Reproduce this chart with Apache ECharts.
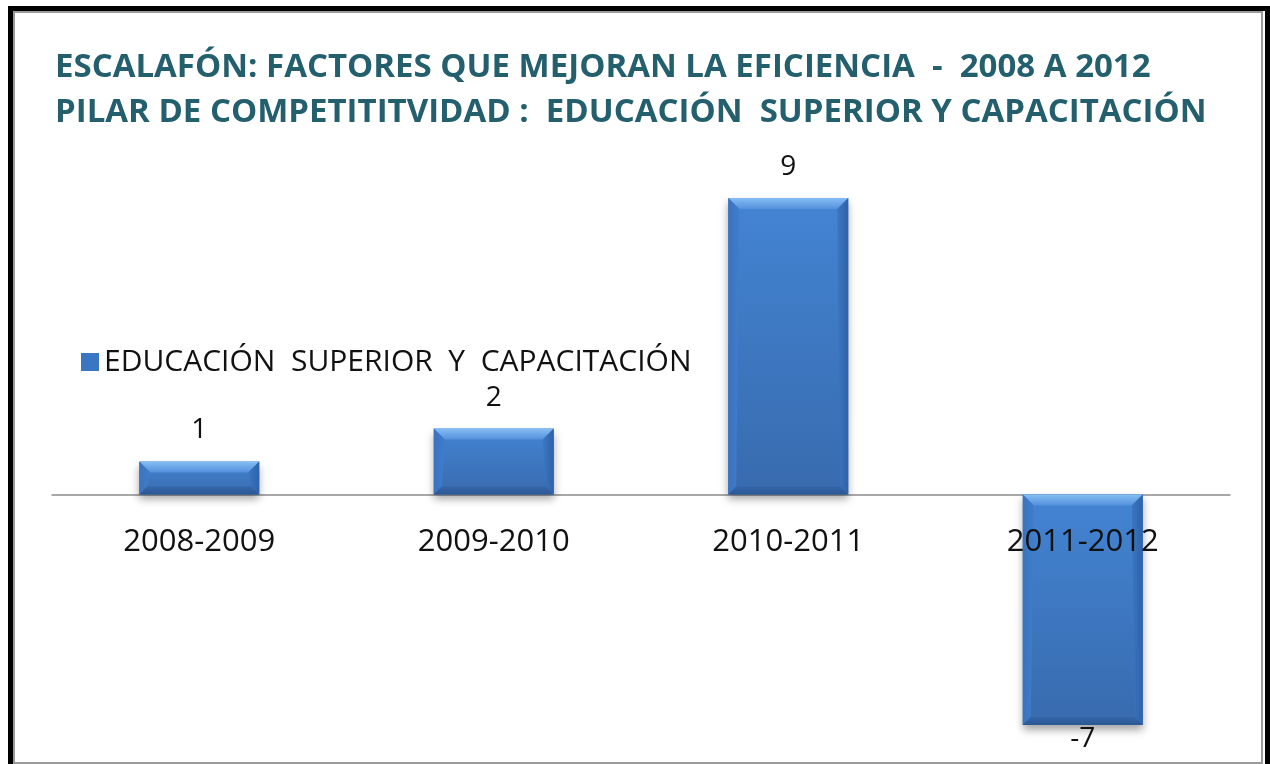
<!DOCTYPE html>
<html>
<head>
<meta charset="utf-8">
<script src="https://cdn.jsdelivr.net/npm/echarts@6/dist/echarts.min.js"></script>
<style>
  html, body { margin: 0; padding: 0; background: #fff; }
  #frame { position: absolute; left: 8px; top: 6px; width: 1252px; height: 800px; border: 5px solid #000; }
  #inner { position: absolute; left: 13px; top: 11px; width: 1246px; height: 749px; border: 2px solid #9a9a9a; }
  #chart { position: absolute; left: 0; top: 0; width: 1270px; height: 764px; }
</style>
</head>
<body>
<div id="frame"></div>
<div id="inner"></div>
<div id="chart"></div>
<script>
var titleLines = [
    'ESCALAFÓN: FACTORES QUE MEJORAN LA EFICIENCIA  -  2008 A 2012',
    'PILAR DE COMPETITITVIDAD :  EDUCACIÓN  SUPERIOR Y CAPACITACIÓN'
];
var seriesName = 'EDUCACIÓN  SUPERIOR  Y  CAPACITACIÓN';
var categories = ['2008-2009', '2009-2010', '2010-2011', '2011-2012'];
var values = [1, 2, 9, -7];

var BAR_W = 120, BEVEL = 11;

var chart = echarts.init(document.getElementById('chart'), null, { renderer: 'canvas' });

var barData = values.map(function (v) {
    return {
        value: v,
        label: { position: v < 0 ? 'bottom' : 'top', distance: v < 0 ? 0 : 17 }
    };
});
var bevelData = values.map(function (v, i) { return [i, v]; });
// category names sit on the zero line, not at the bottom of the grid
var catLabelData = categories.map(function (c) { return [c, 0]; });

function poly(points, fill) {
    return { type: 'polygon', shape: { points: points }, style: { fill: fill }, silent: true };
}

function renderBevel(params, api) {
    var i = api.value(0), v = api.value(1);
    var a = api.coord([i, 0]), b = api.coord([i, v]);
    var x0 = a[0] - BAR_W / 2, x1 = a[0] + BAR_W / 2;
    var yT = Math.min(a[1], b[1]), yB = Math.max(a[1], b[1]);
    var d = Math.min(BEVEL, (yB - yT) / 2);
    var db = Math.min(8, (yB - yT) / 2);
    return {
        type: 'group',
        children: [
            poly([[x0, yT], [x1, yT], [x1 - d, yT + d], [x0 + d, yT + d]],
                new echarts.graphic.LinearGradient(0, 0, 0, 1, [
                    { offset: 0, color: '#86bdf3' }, { offset: 1, color: '#5391dc' }])),
            poly([[x0, yT], [x0 + d, yT + d], [x0 + db, yB - db], [x0, yB]],
                new echarts.graphic.LinearGradient(0, 0, 1, 0, [
                    { offset: 0, color: '#3a73bf' }, { offset: 1, color: '#3f7dcb' }])),
            poly([[x1, yT], [x1, yB], [x1 - db, yB - db], [x1 - d, yT + d]],
                new echarts.graphic.LinearGradient(0, 0, 1, 0, [
                    { offset: 0, color: '#3b76c2' }, { offset: 1, color: '#2f62a8' }])),
            poly([[x0, yB], [x0 + db, yB - db], [x1 - db, yB - db], [x1, yB]],
                new echarts.graphic.LinearGradient(0, 0, 0, 1, [
                    { offset: 0, color: '#3566a8' }, { offset: 1, color: '#2c5894' }]))
        ]
    };
}

var option = {
    backgroundColor: 'transparent',
    animation: false,
    title: {
        text: titleLines.join('\n'),
        left: 50,
        top: 40,
        textStyle: {
            fontFamily: 'Open Sans',
            fontWeight: 'bold',
            fontSize: 33,
            lineHeight: 45,
            color: '#235f6d'
        }
    },
    legend: {
        data: [seriesName],
        left: 76,
        top: 342,
        icon: 'rect',
        itemWidth: 18,
        itemHeight: 18,
        itemGap: 8,
        itemStyle: { color: '#3b76c2' },
        textStyle: { fontFamily: 'Open Sans', fontSize: 30, color: '#111' }
    },
    grid: { left: 52, right: 40, top: 198, bottom: 39, containLabel: false, outerBoundsMode: 'none' },
    xAxis: {
        type: 'category',
        data: categories,
        axisLine: { onZero: true, lineStyle: { color: '#8c8c8c', width: 1.5 } },
        axisTick: { show: false },
        axisLabel: { show: false }
    },
    yAxis: {
        type: 'value',
        min: -7,
        max: 9,
        show: false,
        splitLine: { show: false }
    },
    series: [
        {
            name: seriesName,
            type: 'bar',
            barWidth: BAR_W,
            data: barData,
            itemStyle: {
                color: new echarts.graphic.LinearGradient(0, 0, 0, 1, [
                    { offset: 0, color: '#4384d3' }, { offset: 1, color: '#386bae' }]),
                shadowColor: 'rgba(0,0,0,0.35)',
                shadowBlur: 8,
                shadowOffsetY: 5
            },
            label: {
                show: true,
                fontFamily: 'Open Sans',
                fontSize: 28,
                color: '#111'
            }
        },
        {
            name: 'bevel',
            type: 'custom',
            data: bevelData,
            encode: { x: 0, y: 1 },
            renderItem: renderBevel,
            silent: true,
            z: 3
        },
        {
            name: 'categories',
            type: 'scatter',
            data: catLabelData,
            symbolSize: 0,
            silent: true,
            z: 6,
            itemStyle: { opacity: 1 },
            label: {
                show: true,
                position: 'bottom',
                distance: 32,
                formatter: function (p) { return p.value[0]; },
                fontFamily: 'Open Sans',
                fontSize: 31,
                color: '#111',
                opacity: 1
            }
        }
    ]
};

chart.setOption(option);
</script>
</body>
</html>
